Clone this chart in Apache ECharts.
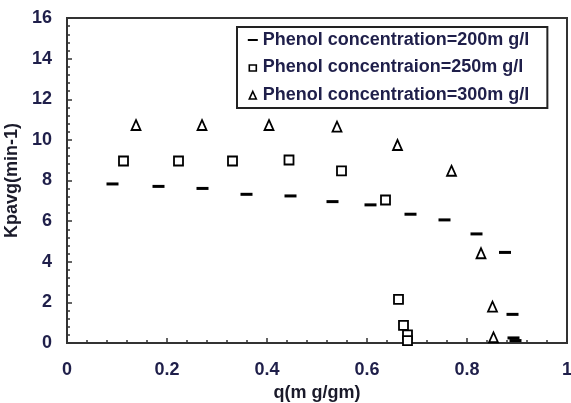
<!DOCTYPE html>
<html>
<head>
<meta charset="utf-8">
<script src="https://cdn.jsdelivr.net/npm/echarts@6/dist/echarts.min.js"></script>
<style>html,body{margin:0;padding:0;background:#fff;}#c{width:571px;height:403px;}</style>
</head>
<body>
<div id="c"></div>
<script>
// Data: [q (mg/gm), Kpavg (min-1)]
var seriesNames = [
  'Phenol concentration=200m g/l',
  'Phenol concentraion=250m g/l',
  'Phenol concentration=300m g/l'
];
var conc200 = [
  [0.091, 7.83], [0.183, 7.71], [0.271, 7.61], [0.359, 7.32], [0.447, 7.24],
  [0.531, 6.96], [0.607, 6.80], [0.687, 6.34], [0.755, 6.06], [0.819, 5.37],
  [0.876, 4.46], [0.891, 1.41], [0.893, 0.25], [0.897, 0.12]
];
var conc250 = [
  [0.113, 8.96], [0.223, 8.96], [0.331, 8.96], [0.444, 9.01], [0.549, 8.47],
  [0.637, 7.04], [0.663, 2.15], [0.673, 0.87], [0.681, 0.40], [0.681, 0.12]
];
var conc300 = [
  [0.138, 10.73], [0.270, 10.73], [0.404, 10.73], [0.540, 10.65], [0.661, 9.75],
  [0.769, 8.48], [0.828, 4.42], [0.851, 1.79], [0.853, 0.28]
];
var xTicks = { min: 0, max: 1, interval: 0.2 };
var yTicks = { min: 0, max: 16, interval: 2 };

var FONT = 'Liberation Sans';
var labelColor = '#1f1f4a';
var lineColor = '#333333';

var chart = echarts.init(document.getElementById('c'), null, { renderer: 'canvas' });
chart.setOption({
  backgroundColor: '#ffffff',
  animation: false,
  grid: {
    left: 67, right: 4, top: 18, bottom: 60,
    outerBoundsMode: 'none', containLabel: false,
    show: true, borderColor: lineColor, borderWidth: 2, backgroundColor: 'transparent'
  },
  legend: {
    orient: 'vertical',
    left: 237, top: 27,
    padding: [4, 18, 4, 10],
    itemGap: 9.5,
    itemWidth: 10, itemHeight: 10,
    borderColor: '#222', borderWidth: 2,
    backgroundColor: '#fff',
    textStyle: { fontFamily: FONT, fontWeight: 'bold', fontSize: 18, color: labelColor, lineHeight: 18 },
    data: [
      { name: seriesNames[0], icon: 'path://M0,0L0,0M0,4h10v2h-10zM10,10L10,10',
        itemStyle: { color: '#000', borderWidth: 0 } },
      { name: seriesNames[1], icon: 'path://M0,0L0,0M1.5,2.5h7v6h-7zM10,10L10,10',
        itemStyle: { color: '#fff', borderColor: '#000', borderWidth: 1.6 } },
      { name: seriesNames[2], icon: 'path://M0,0L0,0M5,1.5L8.5,9H1.5zM10,10L10,10',
        itemStyle: { color: '#fff', borderColor: '#000', borderWidth: 1.6 } }
    ]
  },
  xAxis: {
    type: 'value', min: xTicks.min, max: xTicks.max, interval: xTicks.interval,
    name: 'q(m g/gm)', nameLocation: 'middle', nameGap: 41,
    nameTextStyle: { fontFamily: FONT, fontWeight: 'bold', fontSize: 18, color: '#1a1a2a' },
    axisLine: { show: true, lineStyle: { color: lineColor, width: 2 } },
    axisTick: { show: true, inside: true, length: 5, lineStyle: { color: lineColor, width: 1.5 } },
    minorTick: { show: true, splitNumber: 5, length: 3, lineStyle: { color: lineColor, width: 1.5 } },
    axisLabel: { margin: 18, fontFamily: FONT, fontWeight: 'bold', fontSize: 18, color: labelColor },
    splitLine: { show: false }
  },
  yAxis: {
    type: 'value', min: yTicks.min, max: yTicks.max, interval: yTicks.interval,
    name: 'Kpavg(min-1)', nameLocation: 'middle', nameGap: 41,
    nameTextStyle: { fontFamily: FONT, fontWeight: 'bold', fontSize: 18, color: '#1a1a2a' },
    axisLine: { show: true, lineStyle: { color: lineColor, width: 2 } },
    axisTick: { show: true, inside: true, length: 5, lineStyle: { color: lineColor, width: 1.5 } },
    minorTick: { show: true, splitNumber: 5, length: 3, lineStyle: { color: lineColor, width: 1.5 } },
    axisLabel: { margin: 15, fontFamily: FONT, fontWeight: 'bold', fontSize: 18, color: labelColor },
    splitLine: { show: false }
  },
  series: [
    { name: seriesNames[0], type: 'scatter', data: conc200,
      symbol: 'rect', symbolSize: [12, 3],
      itemStyle: { color: '#000', opacity: 1 } },
    { name: seriesNames[1], type: 'scatter', data: conc250,
      symbol: 'rect', symbolSize: [9, 9],
      itemStyle: { color: '#fff', borderColor: '#000', borderWidth: 1.8, opacity: 1 } },
    { name: seriesNames[2], type: 'scatter', data: conc300,
      symbol: 'triangle', symbolSize: [9, 10],
      itemStyle: { color: '#fff', borderColor: '#000', borderWidth: 1.8, opacity: 1 } }
  ]
});
</script>
</body>
</html>
